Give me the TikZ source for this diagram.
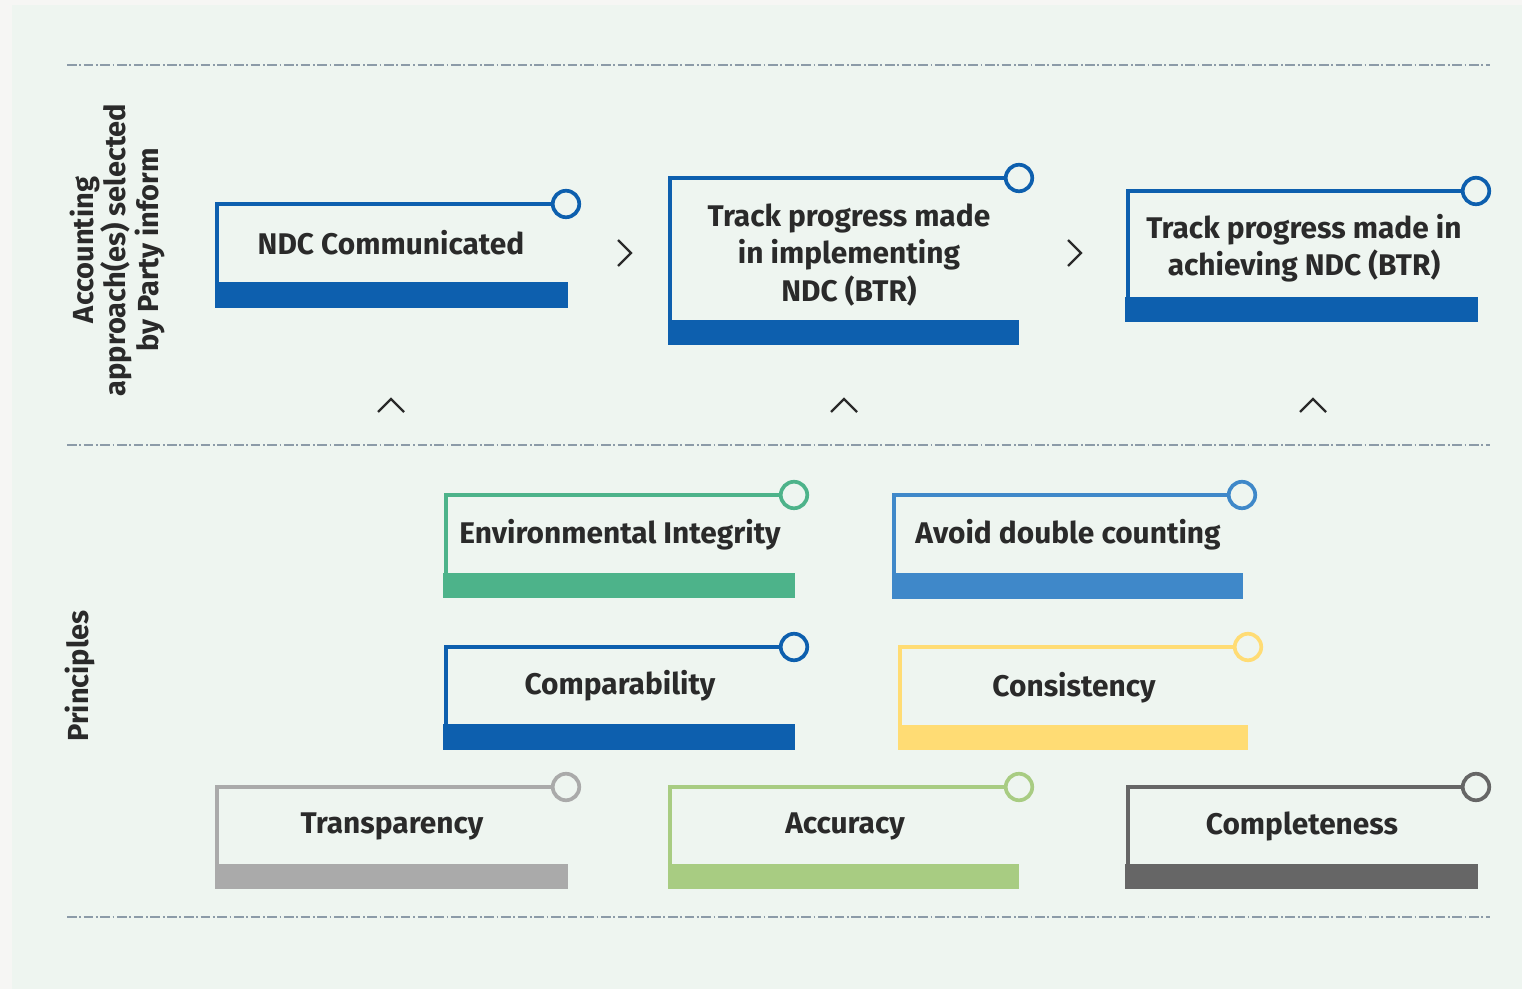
\documentclass[tikz,border=0pt]{standalone}
\usepackage{fontspec}
\setmainfont{Fira Sans}
\usepackage{xcolor}
\usetikzlibrary{positioning}

\definecolor{bgmint}{HTML}{EEF5F0}
\definecolor{edgegray}{HTML}{F6F6F4}
\definecolor{txtdark}{HTML}{2A2A2A}
\definecolor{rulegray}{HTML}{8C9BA8}
\definecolor{ndcblue}{HTML}{0D5FAE}
\definecolor{midblue}{HTML}{3F88C9}
\definecolor{envgreen}{HTML}{4DB38A}
\definecolor{accgreen}{HTML}{A8CC82}
\definecolor{consyellow}{HTML}{FFDC74}
\definecolor{transgray}{HTML}{AAAAAA}
\definecolor{compgray}{HTML}{666666}

\tikzset{
  boxtext/.style={text=txtdark,font=\fontsize{17}{21.3}\selectfont\bfseries,align=center,inner sep=0pt},
  sidetext/.style={text=txtdark,font=\fontsize{16.5}{18.5}\selectfont\bfseries,align=center,rotate=90,inner sep=0pt},
  frame/.style={line width=2.1pt},
  ring/.style={circle,draw=#1,line width=2.1pt,fill=bgmint,minimum size=0.53cm,inner sep=0pt},
  sepline/.style={rulegray,line width=0.9pt,dash pattern=on 5.5pt off 1.5pt on 1pt off 1.5pt},
  chevron/.style={txtdark,line width=1.3pt}
}

\begin{document}
\begin{tikzpicture}[x=0.02cm,y=-0.02cm]

\useasboundingbox (0,0) rectangle (1522,989);
\fill[edgegray] (0,0) rectangle (1522,989);
\fill[bgmint] (12,5) rectangle (1522,989);

\draw[sepline] (67,65) -- (1490,65);
\draw[sepline] (67,445) -- (1490,445);
\draw[sepline] (67,917) -- (1490,917);

\node[sidetext] (acct) at (117,250) {Accounting\\approach(es) selected\\by Party inform};
\node[sidetext] (princ) at (80,676) {Principles};

% upper row
\fill[ndcblue] (215,282) rectangle (568,308);
\node[ring=ndcblue] (ndcring) at (566,204) {};
\draw[frame,ndcblue] (217,282) |- (ndcring.west);
\node[boxtext] (ndc) at (391,243) {NDC Communicated};

\fill[ndcblue] (668,320) rectangle (1019,345);
\node[ring=ndcblue] (implring) at (1019,178) {};
\draw[frame,ndcblue] (670,320) |- (implring.west);
\node[boxtext] (impl) at (849,255) {Track progress made\\in implementing\\NDC (BTR)};

\fill[ndcblue] (1125,297) rectangle (1478,322);
\node[ring=ndcblue] (achring) at (1476,191) {};
\draw[frame,ndcblue] (1128,297) |- (achring.west);
\node[boxtext] (ach) at (1304,248) {Track progress made in\\achieving NDC (BTR)};

\draw[chevron] (618,240) -- (631,253) -- (618,266);
\draw[chevron] (1068,240) -- (1081,253) -- (1068,266);

\draw[chevron] (378,412) -- (391,399) -- (404,412);
\draw[chevron] (831,412) -- (844,399) -- (857,412);
\draw[chevron] (1300,412) -- (1313,399) -- (1326,412);

% principles
\fill[envgreen] (443,573) rectangle (795,598);
\node[ring=envgreen] (envring) at (794,495) {};
\draw[frame,envgreen] (446,573) |- (envring.west);
\node[boxtext] (env) at (620,535) {Environmental Integrity};

\fill[midblue] (892,573) rectangle (1243,599);
\node[ring=midblue] (avoidring) at (1242,495) {};
\draw[frame,midblue] (894,573) |- (avoidring.west);
\node[boxtext] (avoid) at (1068,535) {Avoid double counting};

\fill[ndcblue] (443,724) rectangle (795,750);
\node[ring=ndcblue] (compring) at (794,647) {};
\draw[frame,ndcblue] (446,724) |- (compring.west);
\node[boxtext] (comp) at (620,686) {Comparability};

\fill[consyellow] (898,725) rectangle (1248,750);
\node[ring=consyellow] (consring) at (1248,647) {};
\draw[frame,consyellow] (900,725) |- (consring.west);
\node[boxtext] (cons) at (1074,688) {Consistency};

\fill[transgray] (215,864) rectangle (568,889);
\node[ring=transgray] (transring) at (566,787) {};
\draw[frame,transgray] (217,864) |- (transring.west);
\node[boxtext] (trans) at (392,826) {Transparency};

\fill[accgreen] (668,864) rectangle (1019,889);
\node[ring=accgreen] (accring) at (1019,787) {};
\draw[frame,accgreen] (670,864) |- (accring.west);
\node[boxtext] (acc) at (845,826) {Accuracy};

\fill[compgray] (1125,864) rectangle (1478,889);
\node[ring=compgray] (complring) at (1476,787) {};
\draw[frame,compgray] (1128,864) |- (complring.west);
\node[boxtext] (compl) at (1302,826) {Completeness};

\end{tikzpicture}
\end{document}
